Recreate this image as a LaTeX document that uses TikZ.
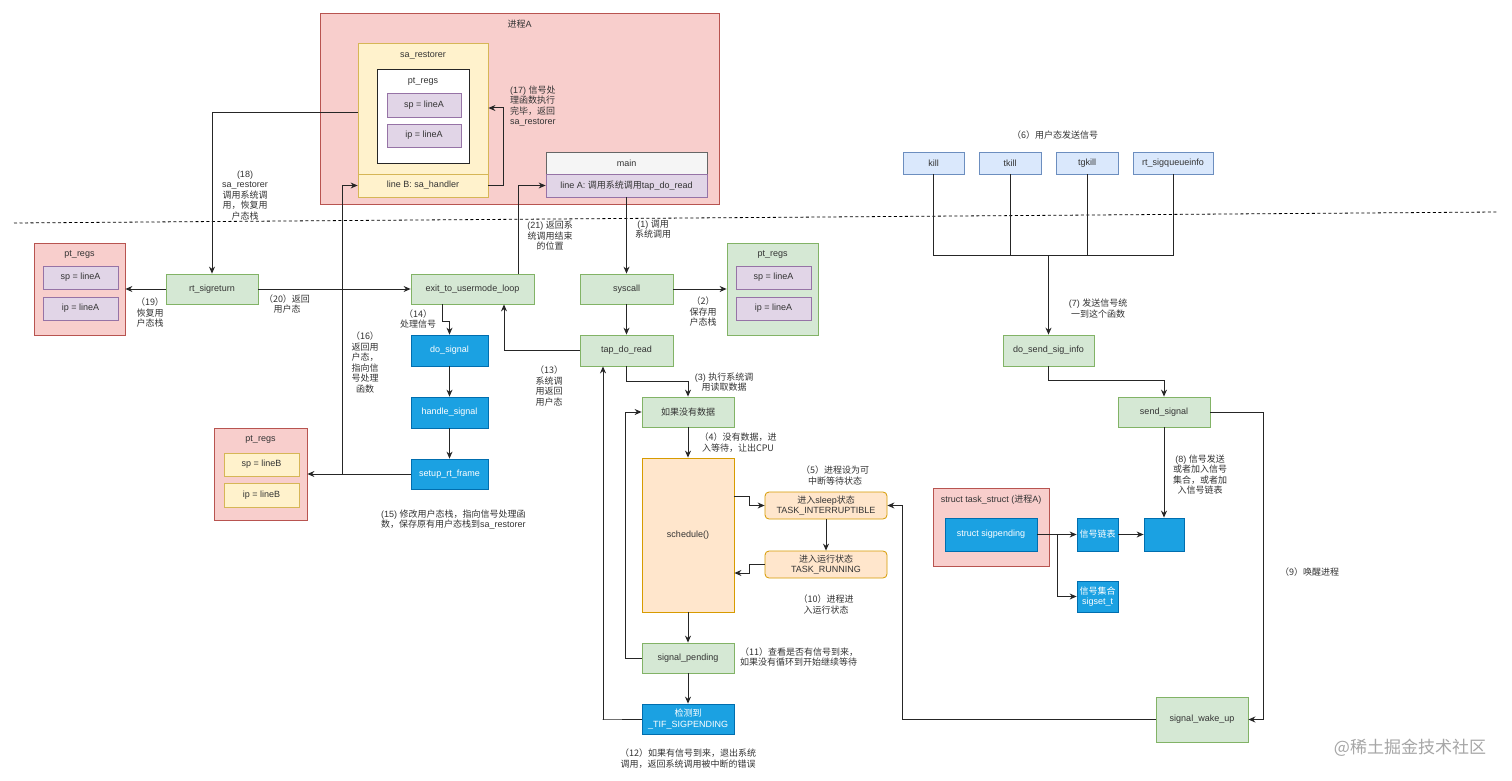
\documentclass[tikz,border=0pt]{standalone}
\usepackage{fontspec}
\setmainfont{Liberation Sans}
\newfontfamily\cjk{Noto Sans CJK SC}
\newcommand\zh[1]{{\cjk #1}}
\usetikzlibrary{arrows.meta}
\definecolor{grnfill}{HTML}{D5E8D4}
\definecolor{grnline}{HTML}{82B366}
\definecolor{blufill}{HTML}{1BA1E2}
\definecolor{bluline}{HTML}{006EAF}
\definecolor{ltbfill}{HTML}{DAE8FC}
\definecolor{ltbline}{HTML}{6C8EBF}
\definecolor{purfill}{HTML}{E1D5E7}
\definecolor{purline}{HTML}{9673A6}
\definecolor{ylwfill}{HTML}{FFF2CC}
\definecolor{ylwline}{HTML}{D6B656}
\definecolor{pnkfill}{HTML}{F8CECC}
\definecolor{pnkline}{HTML}{B85450}
\definecolor{orgfill}{HTML}{FFE6CC}
\definecolor{orgline}{HTML}{D79B00}
\definecolor{gryfill}{HTML}{F5F5F5}
\definecolor{gryline}{HTML}{666666}
\begin{document}
\begin{tikzpicture}[x=1pt,y=-1pt,
    every node/.style={font=\fontsize{9}{10.5}\selectfont, text=black!80},
    box/.style={draw, inner sep=0pt, align=center, line width=0.8pt},
    grnbox/.style={box, fill=grnfill, draw=grnline},
    blubox/.style={box, fill=blufill, draw=bluline, text=white},
    ltbbox/.style={box, fill=ltbfill, draw=ltbline},
    purbox/.style={box, fill=purfill, draw=purline},
    ylwbox/.style={box, fill=ylwfill, draw=ylwline},
    pnkbox/.style={box, fill=pnkfill, draw=pnkline},
    orgbox/.style={box, fill=orgfill, draw=orgline},
    grybox/.style={box, fill=gryfill, draw=gryline},
    lbl/.style={align=center, inner sep=0pt},
    zlbl/.style={lbl, font=\fontsize{9}{10.5}\selectfont\cjk},
    arr/.style={-{Stealth[length=7pt,width=6pt]}, line width=1pt, draw=black!85},
    wire/.style={line width=1pt, draw=black!85}]
  \path[use as bounding box, fill=white] (0,0) rectangle (1512,781);
  \draw[dashed, dash pattern=on 3pt off 2.5pt, line width=0.8pt]
    (14,223) -- (1497,212);

  \node[pnkbox, minimum width=399, minimum height=191] (procA) at (519.5,108.5) {};
  \node[lbl] (procAt) at (519.5,24) {\zh{进程}A};
  \node[ylwbox, minimum width=130, minimum height=154] (sarest) at (423,120) {};
  \node[lbl] (sarestt) at (423,55) {sa\_restorer};
  \node[ylwbox, minimum width=130, minimum height=23] (lineB) at (423,185.5) {line B: sa\_handler};
  \node[box, fill=white, draw=black!85, line width=1pt, minimum width=92, minimum height=93] (ptw) at (423,116.5) {};
  \node[lbl] (ptwt) at (423,82) {pt\_regs};
  \node[purbox, minimum width=74, minimum height=24] (spa) at (424,105) {sp = lineA};
  \node[purbox, minimum width=74, minimum height=23] (ipa) at (424,135.5) {ip = lineA};
  \node[grybox, minimum width=161, minimum height=22] (mainbox) at (626.5,163) {main};
  \node[purbox, minimum width=161, minimum height=23] (lineA) at (626.5,185.5) {line A: \zh{调用系统调用}tap\_do\_read};

  \node[pnkbox, minimum width=91, minimum height=92] (ptl) at (79.5,289) {};
  \node[lbl] (ptlt) at (79.5,255) {pt\_regs};
  \node[purbox, minimum width=75, minimum height=23] (spl) at (80.5,277.5) {sp = lineA};
  \node[purbox, minimum width=75, minimum height=23] (ipl) at (80.5,308.5) {ip = lineA};
  \node[grnbox, minimum width=91, minimum height=92] (ptr) at (772.5,289) {};
  \node[lbl] (ptrt) at (772.5,255) {pt\_regs};
  \node[purbox, minimum width=75, minimum height=23] (spr) at (773.5,277.5) {sp = lineA};
  \node[purbox, minimum width=75, minimum height=23] (ipr) at (773.5,308.5) {ip = lineA};
  \node[pnkbox, minimum width=93, minimum height=92] (ptb) at (260.5,474) {};
  \node[lbl] (ptbt) at (260.5,440) {pt\_regs};
  \node[ylwbox, minimum width=75, minimum height=23] (spb) at (261.5,464.5) {sp = lineB};
  \node[ylwbox, minimum width=75, minimum height=24] (ipb) at (261.5,495) {ip = lineB};

  \node[grnbox, minimum width=92, minimum height=30] (rtsig) at (212,289) {rt\_sigreturn};
  \node[grnbox, minimum width=123, minimum height=30] (exitloop) at (472.5,289) {exit\_to\_usermode\_loop};
  \node[grnbox, minimum width=93, minimum height=30] (syscall) at (626.5,289) {syscall};
  \node[grnbox, minimum width=93, minimum height=31] (tapread) at (626.5,350.5) {tap\_do\_read};
  \node[blubox, minimum width=77, minimum height=31] (dosig) at (449.5,350.5) {do\_signal};
  \node[blubox, minimum width=77, minimum height=31] (handlesig) at (449.5,412.5) {handle\_signal};
  \node[blubox, minimum width=77, minimum height=30] (setupframe) at (449.5,474) {setup\_rt\_frame};
  \node[grnbox, minimum width=92, minimum height=30] (nodata) at (688,412) {\zh{如果没有数据}};
  \node[orgbox, minimum width=92, minimum height=154] (sched) at (688,535) {schedule()};
  \node[orgbox, rounded corners=4pt, minimum width=122, minimum height=27] (sleepst) at (826,505.5) {\zh{进入}sleep\zh{状态}\\TASK\_INTERRUPTIBLE};
  \node[orgbox, rounded corners=4pt, minimum width=122, minimum height=27] (runst) at (826,564.5) {\zh{进入运行状态}\\TASK\_RUNNING};
  \node[grnbox, minimum width=92, minimum height=30] (sigpend) at (688,658) {signal\_pending};
  \node[blubox, minimum width=92, minimum height=30] (tifpend) at (688,719) {\zh{检测到}\\\_TIF\_SIGPENDING};

  \node[ltbbox, minimum width=61, minimum height=22] (kill) at (933.5,163) {kill};
  \node[ltbbox, minimum width=62, minimum height=22] (tkill) at (1010,163) {tkill};
  \node[ltbbox, minimum width=62, minimum height=22] (tgkill) at (1087,163) {tgkill};
  \node[ltbbox, minimum width=80, minimum height=22] (rtq) at (1173,163) {rt\_sigqueueinfo};
  \coordinate (hub) at (1048.5,255);
  \node[grnbox, minimum width=91, minimum height=31] (dosend) at (1048.5,350.5) {do\_send\_sig\_info};
  \node[grnbox, minimum width=92, minimum height=30] (sendsig) at (1164,412) {send\_signal};
  \node[blubox, minimum width=40, minimum height=33] (sigslot) at (1164,534.5) {};
  \node[pnkbox, minimum width=116, minimum height=78] (task) at (991,527) {};
  \node[lbl] (taskt) at (991,500) {struct task\_struct (\zh{进程}A)};
  \node[blubox, minimum width=92, minimum height=33] (sigpnd) at (991,534.5) {struct sigpending};
  \node[blubox, minimum width=41, minimum height=33] (siglist) at (1097.5,534.5) {\zh{信号链表}};
  \node[blubox, minimum width=41, minimum height=31] (sigset) at (1097.5,596.5) {\zh{信号集合}\\sigset\_t};
  \node[grnbox, minimum width=92, minimum height=45] (wakeup) at (1202,719.5) {signal\_wake\_up};
  \coordinate (j16) at (342,474);

  \draw[arr] ([yshift=7pt]sarest.west) -| (rtsig.north);
  \draw[arr] (rtsig.west) -- (ptl.east);
  \draw[arr] (rtsig.east) -- (exitloop.west);
  \draw[arr] ([xshift=45.5pt]exitloop.north) |- (lineA.west);
  \draw[arr] (lineA.south) -- (syscall.north);
  \draw[arr] (syscall.east) -- (ptr.west);
  \draw[arr] (syscall) -- (tapread);
  \draw[arr] (tapread.west) -| ([xshift=31.5pt]exitloop.south);
  \draw[arr] ([xshift=-30.5pt]exitloop.south) -- ++(0,17) -| (dosig.north);
  \draw[arr] (dosig) -- (handlesig);
  \draw[arr] (handlesig) -- (setupframe);
  \draw[arr] (setupframe.west) -- (ptb.east);
  \draw[arr] (j16) |- (lineB.west);
  \draw[arr] (lineB.east) -- ++(15,0) |- ([yshift=12pt]sarest.east);
  \draw[arr] (tapread.south) -- ++(0,15) -| (nodata.north);
  \draw[arr] (nodata) -- (sched);
  \draw[arr] ([yshift=39pt]sched.east) -- ++(15,0) |- (sleepst.west);
  \draw[arr] (sleepst) -- (runst);
  \draw[arr] (runst.west) -- ++(-15,0) |- ([yshift=-38pt]sched.east);
  \draw[arr] (sched) -- (sigpend);
  \draw[arr] (sigpend.west) -- ++(-16,0) |- (nodata.west);
  \draw[arr] (sigpend) -- (tifpend);
  \draw[arr] (tifpend.west) -- ++(-39,0) -| ([xshift=-23.5pt]tapread.south);
  \draw[wire] (kill.south) |- (hub);
  \draw[wire] (tkill.south) |- (hub);
  \draw[wire] (tgkill.south) |- (hub);
  \draw[wire] (rtq.south) |- (hub);
  \draw[arr] (hub) -- (dosend.north);
  \draw[arr] (dosend.south) -- ++(0,14) -| (sendsig.north);
  \draw[arr] (sendsig.south) -- (sigslot.north);
  \draw[arr] (sigpnd.east) -- (siglist.west);
  \draw[arr] (siglist.east) -- (sigslot.west);
  \draw[arr] ([xshift=20pt]sigpnd.east) |- (sigset.west);
  \draw[arr] (sendsig.east) -- ++(53,0) |- (wakeup.east);
  \draw[arr] (wakeup.west) -- ++(-253,0) |- (sleepst.east);

  \node[lbl, anchor=west, align=left] (l17) at (510,106) {(17) \zh{信号处}\\\zh{理函数执行}\\\zh{完毕，返回}\\sa\_restorer};
  \node[lbl] (l18) at (245,195.5) {(18)\\sa\_restorer\\\zh{调用系统调}\\\zh{用，恢复用}\\\zh{户态栈}};
  \node[zlbl] (l19) at (150,313) {（19）\\恢复用\\户态栈};
  \node[zlbl] (l20) at (287,304) {（20）返回\\用户态};
  \node[lbl] (l21) at (550,236) {(21) \zh{返回系}\\\zh{统调用结束}\\\zh{的位置}};
  \node[lbl] (l1) at (653,229) {(1) \zh{调用}\\\zh{系统调用}};
  \node[zlbl] (l2) at (703,312) {（2）\\保存用\\户态栈};
  \node[zlbl] (l13) at (549,386) {（13）\\系统调\\用返回\\用户态};
  \node[zlbl] (l14) at (418,319) {（14）\\处理信号};
  \node[zlbl] (l16) at (365,362.5) {（16）\\返回用\\户态，\\指向信\\号处理\\函数};
  \node[lbl, anchor=west, align=left] (l15) at (381,519.5) {(15) \zh{修改用户态栈，指向信号处理函}\\\zh{数，保存原有用户态栈到}sa\_restorer};
  \node[lbl] (l3) at (724,382) {(3) \zh{执行系统调}\\\zh{用读取数据}};
  \node[zlbl] (l4) at (738,442.5) {（4）没有数据，进\\入等待，让出CPU};
  \node[zlbl] (l5) at (835,475.5) {（5）进程设为可\\中断等待状态};
  \node[zlbl] (l10) at (826,604.5) {（10）进程进\\入运行状态};
  \node[zlbl, anchor=west, align=left] (l11) at (740,657) {（11）查看是否有信号到来，\\如果没有循环到开始继续等待};
  \node[zlbl] (l12) at (688,758.5) {（12）如果有信号到来，退出系统\\调用，返回系统调用被中断的错误};
  \node[zlbl] (l6) at (1055,135) {（6）用户态发送信号};
  \node[lbl] (l7) at (1098,308.5) {(7) \zh{发送信号统}\\\zh{一到这个函数}};
  \node[lbl] (l8) at (1200,474.5) {(8) \zh{信号发送}\\\zh{或者加入信号}\\\zh{集合，或者加}\\\zh{入信号链表}};
  \node[zlbl, anchor=west] (l9) at (1280,572) {（9）唤醒进程};
  \node[lbl, font=\fontsize{17}{19}\selectfont\cjk, text=black!35] (wm) at (1410,748) {@稀土掘金技术社区};
\end{tikzpicture}
\end{document}
